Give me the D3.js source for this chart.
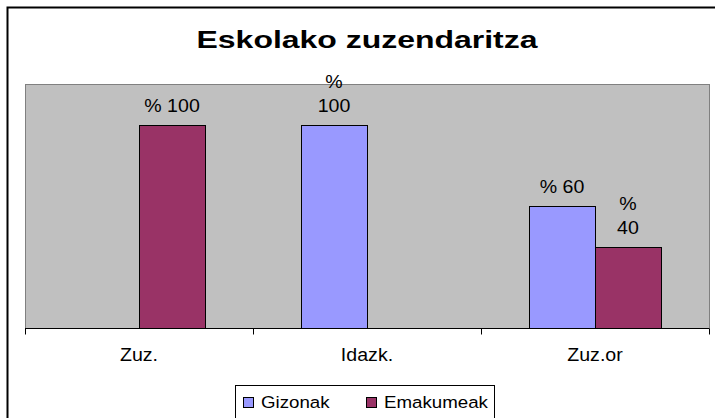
<!DOCTYPE html>
<html>
<head>
<meta charset="utf-8">
<script src="https://cdn.jsdelivr.net/npm/d3@7"></script>
<style>
  body { margin: 0; background: #fff; }
  text { font-family: "Liberation Sans", Arial, sans-serif; fill: #000; }
</style>
</head>
<body>
<div id="chart"></div>
<script>
// chart data
var categories = ["Zuz.", "Idazk.", "Zuz.or"];
var seriesNames = ["Gizonak", "Emakumeak"];
var gizonak = [null, 100, 60];
var emakumeak = [100, null, 40];
// labels that Excel wrapped onto two lines
var wrapGizonak = [false, true, false];
var wrapEmakumeak = [false, false, true];
var colors = ["#9999FF", "#993366"];

var width = 715, height = 418;
var plot = {left: 25, top: 84, right: 709, bottom: 328};
var stretch = 1.12; // Excel text is drawn a bit wide

var svg = d3.select("#chart").append("svg")
	.attr("width", width)
	.attr("height", height);

// chart area border (runs off the right and bottom)
svg.append("rect")
	.attr("x", 7.5).attr("y", 7.5)
	.attr("width", 720).attr("height", 430)
	.attr("fill", "#fff").attr("stroke", "#000").attr("stroke-width", 2);

function stretchedText(g, x, y, str, size, bold, sx) {
	return g.append("text")
		.attr("transform", "translate(" + x + "," + y + ") scale(" + sx + ",1)")
		.attr("text-anchor", "middle")
		.style("font-size", size + "px")
		.style("font-weight", bold ? "bold" : "normal")
		.text(str);
}

// title
stretchedText(svg, 367, 48, "Eskolako zuzendaritza", 23.5, true, 1.36);

// scales
var x0 = d3.scaleBand()
	.domain(categories)
	.range([plot.left, plot.right]);

var x1 = d3.scaleBand()
	.domain(seriesNames)
	.range([0, x0.bandwidth()])
	.paddingOuter(0.727);

var y = d3.scaleLinear()
	.domain([0, 120])
	.range([plot.bottom, plot.top]);

// plot area
svg.append("rect")
	.attr("x", plot.left + 0.5).attr("y", plot.top + 0.5)
	.attr("width", plot.right - plot.left).attr("height", plot.bottom - plot.top)
	.attr("fill", "#C0C0C0").attr("stroke", "#808080").attr("stroke-width", 1);

// build rows
var rows = [];
categories.forEach(function(c, i) {
	rows.push({cat: c, series: seriesNames[0], value: gizonak[i], wrap: wrapGizonak[i], color: colors[0]});
	rows.push({cat: c, series: seriesNames[1], value: emakumeak[i], wrap: wrapEmakumeak[i], color: colors[1]});
});
rows = rows.filter(d => d.value != null);

// bars
svg.selectAll(".bar")
	.data(rows)
	.enter().append("rect")
		.attr("class", "bar")
		.attr("x", d => Math.round(x0(d.cat) + x1(d.series)) + 0.5)
		.attr("y", d => Math.round(y(d.value)) + 0.5)
		.attr("width", Math.round(x1.bandwidth()))
		.attr("height", d => Math.round(y(0)) - Math.round(y(d.value)))
		.attr("fill", d => d.color)
		.attr("stroke", "#000").attr("stroke-width", 1);

// x axis
var axis = svg.append("g")
	.attr("transform", "translate(0," + (plot.bottom + 0.5) + ")")
	.call(d3.axisBottom(x0).tickSize(0).tickFormat(""));
axis.select(".domain").attr("stroke", "#000").attr("d", "M" + plot.left + ",0H" + plot.right);
var tickPos = categories.map(c => x0(c)).concat([plot.right]);
axis.selectAll(".tk")
	.data(tickPos)
	.enter().append("line")
		.attr("class", "tk")
		.attr("x1", d => d + 0.5).attr("x2", d => d + 0.5)
		.attr("y1", 0).attr("y2", 6)
		.attr("stroke", "#000");

// category labels
categories.forEach(function(c) {
	stretchedText(svg, x0(c) + x0.bandwidth() / 2, 361, c, 17.5, false, stretch);
});

// data labels
rows.forEach(function(d) {
	var cx = x0(d.cat) + x1(d.series) + x1.bandwidth() / 2;
	var base = y(d.value) - 13;
	if (d.wrap) {
		stretchedText(svg, cx, base - 24, "%", 17.5, false, stretch);
		stretchedText(svg, cx, base, String(d.value), 17.5, false, stretch);
	} else {
		stretchedText(svg, cx, base, "% " + d.value, 17.5, false, stretch);
	}
});

// legend
var legend = svg.append("g");
legend.append("rect")
	.attr("x", 235.5).attr("y", 385.5)
	.attr("width", 259).attr("height", 40)
	.attr("fill", "#fff").attr("stroke", "#000");
var legendX = [243, 366];
seriesNames.forEach(function(s, i) {
	legend.append("rect")
		.attr("x", legendX[i] + 0.5).attr("y", 397.5)
		.attr("width", 10).attr("height", 10)
		.attr("fill", colors[i]).attr("stroke", "#000");
	legend.append("text")
		.attr("transform", "translate(" + (legendX[i] + 18) + ",408) scale(1.1,1)")
		.style("font-size", "17px")
		.text(s);
});
</script>
</body>
</html>
